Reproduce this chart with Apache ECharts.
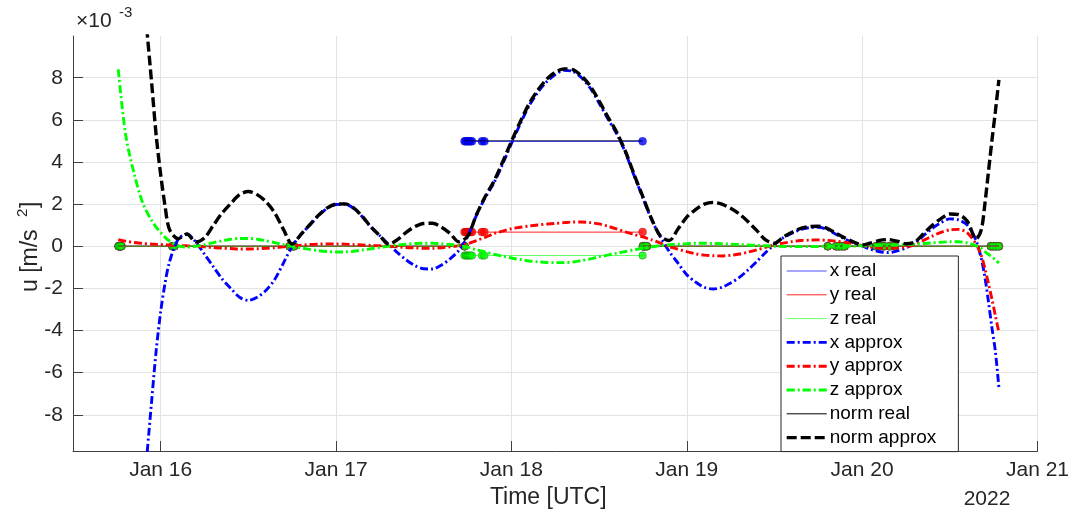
<!DOCTYPE html>
<html><head><meta charset="utf-8">
<script src="https://cdn.jsdelivr.net/npm/echarts@6/dist/echarts.min.js"></script>
<style>html,body{margin:0;padding:0;background:#fff}#c{width:1072px;height:516px}</style>
</head><body><div id="c"></div>
<script>
// ---- data (time in days of January 2022, UTC; accelerations in 1e-3 m/s^2) ----
const approxT = [15.758, 15.8, 15.85, 15.9, 15.95, 15.975, 16.0, 16.025, 16.05, 16.1,
  16.15, 16.2, 16.25, 16.3, 16.35, 16.4, 16.45, 16.5, 16.55, 16.6,
  16.65, 16.7, 16.75, 16.8, 16.85, 16.9, 16.95, 17.0, 17.05, 17.1,
  17.15, 17.2, 17.25, 17.3, 17.35, 17.4, 17.45, 17.5, 17.55, 17.6,
  17.65, 17.7, 17.75, 17.8, 17.85, 17.9, 17.95, 18.0, 18.05, 18.1,
  18.15, 18.2, 18.25, 18.3, 18.35, 18.4, 18.45, 18.5, 18.55, 18.6,
  18.65, 18.7, 18.75, 18.8, 18.85, 18.9, 18.95, 19.0, 19.05, 19.1,
  19.15, 19.2, 19.25, 19.3, 19.35, 19.4, 19.45, 19.5, 19.55, 19.6,
  19.65, 19.7, 19.75, 19.8, 19.85, 19.9, 19.95, 20.0, 20.05, 20.1,
  20.15, 20.2, 20.25, 20.3, 20.35, 20.4, 20.45, 20.5, 20.55, 20.6,
  20.65, 20.68, 20.7, 20.72, 20.74, 20.76, 20.78];
const xApprox = [-32.5, -25.4, -18.1, -12.1, -7.2, -4.9, -3.1, -1.75, -0.75, 0.33,
  0.57, 0.2, -0.38, -0.97, -1.55, -2.0, -2.42, -2.57, -2.42, -2.1,
  -1.58, -0.8, 0.0, 0.55, 1.0, 1.45, 1.8, 1.98, 1.99, 1.8,
  1.4, 0.9, 0.5, 0.08, -0.3, -0.65, -0.92, -1.07, -1.08, -0.9,
  -0.6, -0.2, 0.45, 1.45, 2.3, 3.0, 3.9, 4.87, 5.8, 6.65,
  7.3, 7.8, 8.15, 8.35, 8.3, 8.0, 7.5, 6.8, 6.05, 5.35,
  4.45, 3.35, 2.3, 1.25, 0.45, -0.25, -0.8, -1.35, -1.7, -1.95,
  -2.03, -1.95, -1.75, -1.48, -1.12, -0.72, -0.3, 0.1, 0.4, 0.62,
  0.8, 0.88, 0.9, 0.8, 0.57, 0.35, 0.17, 0.02, -0.15, -0.26,
  -0.3, -0.22, -0.08, 0.15, 0.5, 0.85, 1.12, 1.3, 1.25, 1.0,
  0.27, -0.6, -1.45, -2.6, -3.85, -5.0, -6.7];
const yApprox = [0.31, 0.24, 0.18, 0.13, 0.1, 0.09, 0.08, 0.07, 0.06, 0.04,
  0.02, 0.0, -0.03, -0.06, -0.09, -0.11, -0.13, -0.13, -0.12, -0.1,
  -0.07, -0.03, 0.01, 0.05, 0.08, 0.1, 0.11, 0.11, 0.1, 0.08,
  0.06, 0.04, 0.02, 0.0, -0.03, -0.06, -0.08, -0.1, -0.1, -0.07,
  -0.03, 0.03, 0.12, 0.27, 0.42, 0.6, 0.72, 0.83, 0.9, 0.96,
  1.01, 1.05, 1.08, 1.12, 1.15, 1.15, 1.12, 1.06, 0.95, 0.82,
  0.68, 0.56, 0.44, 0.3, 0.15, -0.02, -0.14, -0.26, -0.36, -0.42,
  -0.45, -0.46, -0.43, -0.37, -0.28, -0.17, -0.05, 0.07, 0.15, 0.22,
  0.27, 0.29, 0.3, 0.28, 0.24, 0.19, 0.12, 0.03, -0.04, -0.09,
  -0.1, -0.08, -0.03, 0.08, 0.28, 0.48, 0.66, 0.78, 0.8, 0.63,
  0.1, -0.45, -1.05, -1.75, -2.5, -3.3, -4.1];
const zApprox = [8.4, 5.3, 3.4, 2.0, 1.2, 0.9, 0.65, 0.42, 0.25, 0.02,
  -0.04, 0.0, 0.08, 0.17, 0.26, 0.33, 0.37, 0.37, 0.33, 0.26,
  0.17, 0.08, 0.0, -0.08, -0.15, -0.21, -0.25, -0.27, -0.27, -0.24,
  -0.18, -0.12, -0.06, 0.0, 0.06, 0.1, 0.13, 0.14, 0.14, 0.12,
  0.08, 0.03, -0.05, -0.17, -0.27, -0.38, -0.47, -0.56, -0.63, -0.7,
  -0.74, -0.77, -0.78, -0.78, -0.75, -0.68, -0.6, -0.5, -0.42, -0.33,
  -0.25, -0.17, -0.09, -0.03, 0.03, 0.07, 0.1, 0.12, 0.14, 0.14,
  0.13, 0.12, 0.1, 0.08, 0.06, 0.04, 0.02, 0.0, -0.01, -0.02,
  -0.02, -0.02, -0.01, 0.0, 0.0, 0.01, 0.01, 0.02, 0.03, 0.04,
  0.05, 0.06, 0.08, 0.1, 0.13, 0.16, 0.19, 0.21, 0.21, 0.16,
  0.02, -0.1, -0.25, -0.38, -0.5, -0.64, -0.8];
const normApprox = [33.6, 26.0, 18.5, 12.4, 7.6, 5.2, 3.4, 1.9, 0.8, 0.36,
  0.58, 0.2, 0.4, 0.99, 1.57, 2.03, 2.45, 2.6, 2.45, 2.12,
  1.59, 0.8, 0.1, 0.56, 1.02, 1.47, 1.82, 2.0, 2.01, 1.82,
  1.41, 0.91, 0.5, 0.1, 0.31, 0.66, 0.93, 1.08, 1.09, 0.91,
  0.61, 0.21, 0.47, 1.48, 2.35, 3.08, 4.0, 4.97, 5.9, 6.75,
  7.4, 7.92, 8.26, 8.42, 8.38, 8.08, 7.6, 6.9, 6.14, 5.42,
  4.51, 3.4, 2.34, 1.29, 0.48, 0.27, 0.82, 1.38, 1.74, 2.0,
  2.08, 2.0, 1.8, 1.53, 1.16, 0.74, 0.3, 0.14, 0.43, 0.66,
  0.85, 0.93, 0.95, 0.85, 0.62, 0.4, 0.21, 0.06, 0.16, 0.28,
  0.32, 0.24, 0.12, 0.2, 0.59, 0.99, 1.31, 1.53, 1.5, 1.19,
  0.35, 0.8, 2.0, 3.5, 5.0, 6.4, 7.9];

// measured ("real") samples; null = break between segments
const realT = [15.760, 15.768, 15.776, 16.067, 16.078, 16.735, 16.748, 16.760, 17.733,
  17.733,
  17.733, 17.741, 17.749, 17.757, 17.765, 17.775, 17.832, 17.846, 18.748,
  18.748,
  18.750, 18.760, 18.772, 19.804, 19.852, 19.868, 19.884, 19.900, 20.080, 20.100,
  20.124, 20.156, 20.184, 20.734, 20.748, 20.764, 20.780];
const xReal = [0, 0, 0, 0, 0, 0, 0, 0, 0,
  null,
  4.98, 4.98, 4.98, 4.98, 4.98, 4.98, 4.98, 4.98, 4.98,
  null,
  0, 0, 0, 0, 0, 0, 0, 0, 0, 0, 0, 0, 0, 0, 0, 0, 0];
const yReal = [0, 0, 0, 0, 0, 0, 0, 0, 0,
  null,
  0.67, 0.67, 0.67, 0.67, 0.67, 0.67, 0.67, 0.67, 0.67,
  null,
  0, 0, 0, 0, 0, 0, 0, 0, 0, 0, 0, 0, 0, 0, 0, 0, 0];
const zReal = [0, 0, 0, 0, 0, 0, 0, 0, 0,
  null,
  -0.44, -0.44, -0.44, -0.44, -0.44, -0.44, -0.44, -0.44, -0.44,
  null,
  0, 0, 0, 0, 0, 0, 0, 0, 0, 0, 0, 0, 0, 0, 0, 0, 0];
const normReal = [0, 0, 0, 0, 0, 0, 0, 0, 0,
  null,
  5.0, 5.0, 5.0, 5.0, 5.0, 5.0, 5.0, 5.0, 5.0,
  null,
  0, 0, 0, 0, 0, 0, 0, 0, 0, 0, 0, 0, 0, 0, 0, 0, 0];

const xTickValues = [16, 17, 18, 19, 20, 21];
const xTickLabels = ['Jan 16', 'Jan 17', 'Jan 18', 'Jan 19', 'Jan 20', 'Jan 21'];
const yTickValues = [-8, -6, -4, -2, 0, 2, 4, 6, 8];
const legendNames = ['x real', 'y real', 'z real', 'x approx', 'y approx', 'z approx', 'norm real', 'norm approx'];

// ---- chart ----
const FONT = '"Liberation Sans", Arial, Helvetica, sans-serif';
const TXT = '#262626';
const AX = '#404040';
const dashDot = [8, 3, 2, 3];
const dash = [10, 4];

function pairs(t, v) { return t.map((x, i) => [x, v[i] == null ? '-' : v[i]]); }
function pts(t, v) { return t.map((x, i) => v[i] == null ? null : [x, v[i]]).filter(p => p); }

function realLine(name, vals, color) {
  return { name, type: 'line', data: pairs(realT, vals), showSymbol: false, symbol: 'circle',
    connectNulls: false, lineStyle: { color, width: 1 }, itemStyle: { color }, silent: true };
}
function approxLine(name, vals, color, width, type) {
  return { name, type: 'line', data: pairs(approxT, vals), showSymbol: false, symbol: 'circle',
    smooth: 0.3, lineStyle: { color, width, type, cap: 'butt' }, itemStyle: { color }, silent: true };
}
function marks(vals, color, border, size) {
  return { type: 'scatter', data: pts(realT, vals), symbol: 'circle', symbolSize: size,
    itemStyle: { color, borderColor: border, borderWidth: 0.8 }, silent: true };
}

const chart = echarts.init(document.getElementById('c'), null, { renderer: 'canvas' });
chart.setOption({
  animation: false,
  backgroundColor: '#fff',
  textStyle: { fontFamily: FONT },
  grid: { left: 73, right: 32, top: 36, bottom: 65 },
  xAxis: {
    type: 'value', min: 15.5, max: 21,
    axisLine: { show: true, onZero: false, lineStyle: { color: AX, width: 1 } },
    axisTick: { show: true, inside: true, length: 10, customValues: xTickValues, lineStyle: { color: AX } },
    axisLabel: { customValues: xTickValues, color: TXT, fontSize: 21, fontFamily: FONT, margin: 9,
      formatter: v => xTickLabels[xTickValues.indexOf(Math.round(v))] },
    splitLine: { show: true, lineStyle: { color: '#e3e3e3', width: 1 } },
    name: 'Time [UTC]', nameLocation: 'middle', nameGap: 34,
    nameTextStyle: { fontSize: 23, color: TXT, fontFamily: FONT, padding: [0, 14, 0, 0] }
  },
  yAxis: {
    type: 'value', min: -9.72, max: 9.98,
    axisLine: { show: true, onZero: false, lineStyle: { color: AX, width: 1 } },
    axisTick: { show: true, inside: true, length: 10, customValues: yTickValues, lineStyle: { color: AX } },
    axisLabel: { customValues: yTickValues, color: TXT, fontSize: 21, fontFamily: FONT, margin: 10 },
    splitLine: { show: true, lineStyle: { color: '#e3e3e3', width: 1 } }
  },
  legend: {
    data: legendNames, orient: 'vertical', left: 781, top: 256, selectedMode: false,
    itemWidth: 40, itemHeight: 14, itemGap: 3.8, padding: [5, 22, 4, 4],
    backgroundColor: '#fff', borderColor: '#262626', borderWidth: 1, borderRadius: 0,
    textStyle: { fontSize: 19, color: '#000', fontFamily: FONT, lineHeight: 20, padding: [0, 0, 0, -2] },
    lineStyle: { width: 'inherit' },
    itemStyle: { color: 'rgba(0,0,0,0)', borderColor: 'rgba(0,0,0,0)', borderWidth: 0, opacity: 0 }
  },
  graphic: [
    { type: 'text', x: 76, y: 21, style: { text: '×10', font: '21px ' + FONT, fill: TXT, textVerticalAlign: 'middle' } },
    { type: 'text', x: 119, y: 13, style: { text: '-3', font: '15px ' + FONT, fill: TXT, textVerticalAlign: 'middle' } },
    { type: 'text', x: 987, y: 499, style: { text: '2022', font: '21px ' + FONT, fill: TXT, textAlign: 'center', textVerticalAlign: 'middle' } },
    { type: 'group', x: 31, y: 246, rotation: Math.PI / 2, children: [
      { type: 'text', x: -46, y: 0, style: { text: 'u [m/s', font: '23px ' + FONT, fill: TXT, textVerticalAlign: 'middle' } },
      { type: 'text', x: 29, y: -8, style: { text: '2', font: '15px ' + FONT, fill: TXT, textVerticalAlign: 'middle' } },
      { type: 'text', x: 38, y: 0, style: { text: ']', font: '23px ' + FONT, fill: TXT, textVerticalAlign: 'middle' } }
    ] }
  ],
  series: [
    realLine('norm real', normReal, '#000'),
    realLine('x real', xReal, 'rgba(0,0,255,0.7)'),
    realLine('y real', yReal, 'rgba(255,0,0,0.85)'),
    realLine('z real', zReal, 'rgba(0,255,0,0.6)'),
    marks(xReal, '#0000ff', 'rgba(0,0,160,0.5)', 8),
    marks(yReal, '#ff0000', 'rgba(160,0,0,0.5)', 8),
    marks(zReal, '#00ff00', 'rgba(0,90,0,0.6)', 7.5),
    approxLine('x approx', xApprox, '#0000ff', 2.9, dashDot),
    approxLine('y approx', yApprox, '#ff0000', 2.9, dashDot),
    approxLine('z approx', zApprox, '#00ff00', 2.9, dashDot),
    approxLine('norm approx', normApprox, '#000000', 3.4, dash)
  ]
});
</script>
</body></html>
